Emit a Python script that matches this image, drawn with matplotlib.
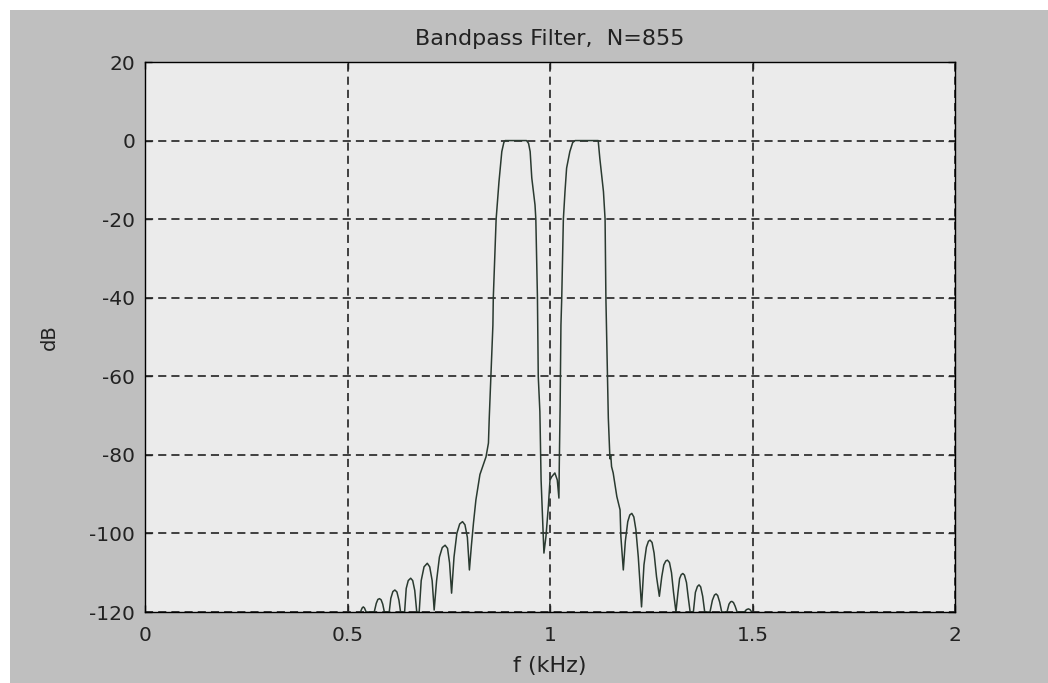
import numpy as np
import matplotlib
matplotlib.use("Agg")
import matplotlib.pyplot as plt
from matplotlib.patches import Rectangle

# frequency (kHz) and magnitude (dB)
freq = [
    0.532, 0.536, 0.539, 0.542, 0.546,
    0.566, 0.571, 0.575, 0.579, 0.583, 0.587, 0.591,
    0.603, 0.607, 0.612, 0.617, 0.622, 0.627, 0.631,
    0.641, 0.645, 0.650, 0.656, 0.661, 0.666, 0.671,
    0.677, 0.682, 0.689, 0.697, 0.703, 0.709, 0.714,
    0.720, 0.727, 0.734, 0.741, 0.747, 0.752, 0.757,
    0.763, 0.770, 0.777, 0.784, 0.790, 0.796, 0.801,
    0.806, 0.811, 0.817, 0.827, 0.842, 0.848, 0.850, 0.854, 0.859, 0.860,
    0.867, 0.874, 0.881, 0.886, 0.889, 0.942, 0.947, 0.951, 0.955, 0.963,
    0.965, 0.969, 0.971, 0.975, 0.978, 0.983, 0.985, 0.990, 0.996, 1.000,
    1.004, 1.012, 1.018, 1.022, 1.023, 1.025, 1.027, 1.029, 1.033, 1.037,
    1.041, 1.049, 1.056, 1.062, 1.119, 1.123, 1.132, 1.136, 1.138, 1.142,
    1.144, 1.148, 1.150, 1.152, 1.156, 1.165, 1.173, 1.175, 1.181,
    1.186, 1.192, 1.197, 1.202, 1.207, 1.212, 1.218, 1.226,
    1.232, 1.238, 1.243, 1.247, 1.252, 1.257, 1.263, 1.270,
    1.276, 1.281, 1.286, 1.290, 1.295, 1.300, 1.305, 1.311,
    1.316, 1.320, 1.324, 1.328, 1.332, 1.337, 1.341, 1.346,
    1.354, 1.359, 1.364, 1.368, 1.372, 1.377, 1.382,
    1.395, 1.401, 1.406, 1.410, 1.414, 1.419, 1.424,
    1.437, 1.442, 1.446, 1.449, 1.453, 1.457, 1.462,
    1.480, 1.485, 1.490, 1.494, 1.498,
]
mag_db = [
    -120, -119, -118.7, -119, -120,
    -120, -117.8, -116.8, -116.6, -116.9, -118, -120,
    -120, -116.5, -114.8, -114.4, -114.9, -117, -120,
    -120, -114, -112, -111.4, -112, -114.5, -120,
    -120, -112, -108.5, -107.6, -108.5, -112, -119.5,
    -112, -106, -103.6, -103, -103.8, -107.5, -115.2,
    -106, -100, -97.6, -97, -97.8, -101, -109.3,
    -103, -97.4, -91.5, -85, -80.5, -77, -70.6, -60, -47, -40,
    -20, -10.5, -2.8, -0.5, 0, 0, -0.7, -2.8, -9.5, -16.4,
    -20, -40, -60, -69, -86.4, -100, -105, -100.8, -93, -86.4,
    -85.6, -84.6, -86.4, -91, -82, -67.7, -47, -40, -20, -13,
    -7, -2.8, -0.5, 0, 0, -4.5, -13, -20, -40, -60,
    -70.6, -81, -80, -83, -84.6, -90.6, -94, -100.8, -109.3,
    -102, -97, -95.3, -94.9, -95.8, -99, -106, -118.7,
    -108, -103.5, -102, -101.7, -102.3, -105, -111, -116,
    -111, -108, -107, -106.8, -107.4, -110, -115, -120,
    -115, -111.5, -110.5, -110.2, -110.6, -112.5, -116, -120,
    -120, -115, -113.5, -113.1, -113.6, -116, -120,
    -120, -117, -115.7, -115.4, -115.8, -117.5, -120,
    -120, -118, -117.4, -117.3, -117.6, -118.5, -120,
    -120, -119.4, -119.2, -119.4, -120,
]

x_ticks = [0, 0.5, 1, 1.5, 2]
x_labels = ["0", "0.5", "1", "1.5", "2"]
y_ticks = [-120, -100, -80, -60, -40, -20, 0, 20]

plt.rcParams['font.family'] = ['DejaVu Sans']
plt.rcParams['axes.unicode_minus'] = False

fig = plt.figure(figsize=(10.48, 6.83), dpi=100, facecolor='white')
# gray panel behind the axes (white strip on left and top)
fig.add_artist(Rectangle((10 / 1048, 0), 1038 / 1048, 673 / 683,
                         transform=fig.transFigure, facecolor='#bfbfbf',
                         edgecolor='none', zorder=-5))

ax = fig.add_axes([145 / 1048, 71 / 683, 810 / 1048, 550 / 683])
ax.set_zorder(5)
ax.set_facecolor('#ebebeb')

ax.plot(freq, mag_db, color='#2a3a30', lw=1.1)

ax.set_xlim(0, 2)
ax.set_ylim(-120, 20)
ax.set_xticks(x_ticks)
ax.set_xticklabels(x_labels)
ax.set_yticks(y_ticks)
ax.grid(True, linestyle=(0, (4.5, 2.8)), color='#333333', lw=1.3)
ax.tick_params(direction='in', length=5, width=1, labelsize=14.5,
               colors='#222222', top=True, right=True)
ax.tick_params(axis='x', pad=10)
ax.tick_params(axis='y', pad=7)
for s in ax.spines.values():
    s.set_color('black')
    s.set_linewidth(1)

ax.set_title("Bandpass Filter,  N=855", fontsize=16, pad=12, color='#222222')
ax.set_xlabel("f (kHz)", fontsize=16, labelpad=8, color='#222222')
ax.set_ylabel("dB", fontsize=14, labelpad=22, color='#222222')

fig.savefig("out.png", dpi=100, facecolor=fig.get_facecolor())
